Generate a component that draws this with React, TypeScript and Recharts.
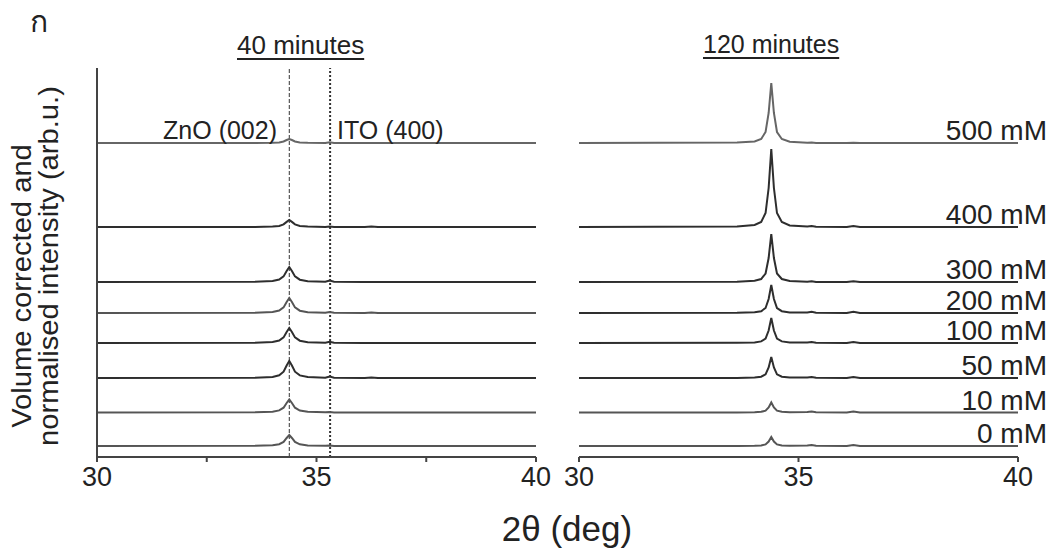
import { LineChart, Line, XAxis, YAxis, ReferenceLine } from "recharts";

const FONT = '"Liberation Sans", Arial, sans-serif';

// 2θ positions sampled along each trace
const twoTheta = [30, 33.6, 34.0, 34.15, 34.25, 34.32, 34.38, 34.44, 34.51, 34.62, 34.8, 35.2, 35.3, 35.4, 36.1, 36.25, 36.4, 40];

const concentrations = ["0 mM", "10 mM", "50 mM", "100 mM", "200 mM", "300 mM", "400 mM", "500 mM"];
// vertical stacking offset of each trace (arb.u.)
const offsets = [11, 44.5, 79, 114, 144, 175, 230, 314];

// 40 minutes
const left0 = [0, 0.2, 0.7, 1.8, 4.1, 8, 11, 8, 4.1, 1.7, 0.6, 0.2, 0.5, 0, 0, 0, 0, 0];
const left10 = [0, 0.2, 0.8, 2.1, 4.8, 9.5, 13, 9.5, 4.8, 2, 0.7, 0.2, 0.5, 0, 0, 0, 0, 0];
const left50 = [0, 0.3, 1.1, 2.7, 6.3, 12.5, 17, 12.5, 6.3, 2.6, 0.9, 0.3, 1.5, 0.3, 0, 0.5, 0, 0];
const left100 = [0, 0.2, 1, 2.4, 5.6, 11, 15, 11, 5.6, 2.3, 0.8, 0.3, 1.2, 0.3, 0, 0, 0, 0];
const left200 = [0, 0.2, 1, 2.4, 5.6, 11, 15, 11, 5.6, 2.3, 0.8, 0.3, 1, 0.3, 0, 0.5, 0, 0];
const left300 = [0, 0.2, 1, 2.4, 5.6, 11, 15, 11, 5.6, 2.3, 0.8, 0.3, 1.5, 0.3, 0, 0, 0, 0];
const left400 = [0, 0.1, 0.5, 1.1, 2.6, 5.1, 7, 5.1, 2.6, 1.1, 0.4, 0, 0.5, 0, 0, 0.6, 0, 0];
const left500 = [0, 0, 0.3, 0.6, 1.5, 3, 4, 3, 1.5, 0.6, 0.2, 0, 0.8, 0, 0, 0, 0, 0];

// 120 minutes
const right0 = [0, 0, 0.2, 0.6, 1.6, 4.5, 9, 4.5, 1.6, 0.6, 0.2, 0.5, 1, 0.3, 0, 1, 0, 0];
const right10 = [0, 0, 0.3, 0.7, 1.8, 5, 10, 5, 1.8, 0.7, 0.3, 0.5, 1, 0.3, 0, 1, 0, 0];
const right50 = [0, 0.1, 0.5, 1.3, 3.7, 10.5, 21, 10.5, 3.7, 1.3, 0.4, 0.5, 1, 0.3, 0, 1, 0, 0];
const right100 = [0, 0.2, 0.6, 1.6, 4.4, 12.5, 25, 12.5, 4.4, 1.6, 0.5, 0.5, 1, 0.3, 0, 1, 0, 0];
const right200 = [0, 0.2, 0.7, 1.8, 5, 14, 28, 14, 5, 1.8, 0.6, 0.5, 1.2, 0.3, 0, 1.2, 0, 0];
const right300 = [0, 0.3, 1.2, 3, 8.5, 24, 48, 24, 8.5, 3, 1, 0.3, 0.8, 0, 0, 0.8, 0, 0];
const right400 = [0, 0.5, 2, 5, 14, 39, 78, 39, 14, 5, 1.5, 0.5, 1, 0.3, 0, 1, 0, 0];
const right500 = [0, 0.4, 1.5, 4, 11, 30, 60, 30, 11, 4, 1.2, 0.3, 0.5, 0, 0, 0.3, 0, 0];

const leftSeries = [left0, left10, left50, left100, left200, left300, left400, left500];
const rightSeries = [right0, right10, right50, right100, right200, right300, right400, right500];

const leftColors = ["#555", "#555", "#2e2e2e", "#2e2e2e", "#555", "#2e2e2e", "#2e2e2e", "#666"];
const rightColors = ["#555", "#555", "#2e2e2e", "#2e2e2e", "#2e2e2e", "#2e2e2e", "#2e2e2e", "#666"];

const znoPeak = 34.38;
const itoPeak = 35.31;

const leftTicks = [30, 32.5, 35, 37.5, 40];
const rightTicks = [30, 35, 40];

const buildRows = (series: number[][]) =>
  twoTheta.map((x, i) => {
    const row: Record<string, number> = { x };
    series.forEach((s, k) => {
      row["s" + k] = offsets[k] + s[i];
    });
    return row;
  });

const leftRows = buildRows(leftSeries);
const rightRows = buildRows(rightSeries);

const W = 560;
const H = 551;
const tickStyle = { fontSize: 27, fill: "#222", fontFamily: FONT };
const fmt = (v: number) => (v % 5 === 0 ? String(v) : "");

function Panel({ rows, colors, ticks, left, marginLeft, withYAxis, withRefs, withLabels }: any) {
  const last = twoTheta.length - 1;
  return (
    <div style={{ position: "absolute", left, top: 0 }}>
      <LineChart width={W} height={H} data={rows} margin={{ top: 68, right: W - marginLeft - 439, bottom: 64, left: withYAxis ? marginLeft - 10 : marginLeft }}>
        <XAxis
          dataKey="x"
          type="number"
          domain={[30, 40]}
          ticks={ticks}
          tickFormatter={fmt}
          interval={0}
          height={30}
          tickSize={5}
          tickMargin={5}
          tick={tickStyle}
          axisLine={{ stroke: "#444", strokeWidth: 2 }}
          tickLine={{ stroke: "#444", strokeWidth: 2 }}
        />
        <YAxis
          type="number"
          domain={[0, 389]}
          hide={!withYAxis}
          width={10}
          tick={false}
          tickLine={false}
          axisLine={{ stroke: "#444", strokeWidth: 2 }}
        />
        {withRefs && <ReferenceLine x={znoPeak} stroke="#333" strokeWidth={1} strokeDasharray="4 2" />}
        {withRefs && <ReferenceLine x={itoPeak} stroke="#333" strokeWidth={2} strokeDasharray="2 2" />}
        {concentrations.map((c, k) => (
          <Line
            key={c}
            type="linear"
            dataKey={"s" + k}
            stroke={colors[k]}
            strokeWidth={2}
            isAnimationActive={false}
            dot={(p: any) =>
              withLabels && p.index === last ? (
                <text key={c + "lab"} x={p.cx + 29} y={p.cy - 3} textAnchor="end" fontSize={28} fill="#222" fontFamily={FONT}>
                  {c}
                </text>
              ) : (
                <g key={c + "d" + p.index} />
              )
            }
          />
        ))}
      </LineChart>
    </div>
  );
}

const txt = { position: "absolute", fontFamily: FONT, color: "#222", whiteSpace: "nowrap", lineHeight: 1 } as const;

export default function App() {
  return (
    <div style={{ position: "absolute", left: 0, top: 0, width: 1052, height: 551, background: "#fff", overflow: "hidden" }}>
      <Panel rows={leftRows} colors={leftColors} ticks={leftTicks} left={0} marginLeft={97} withYAxis withRefs />
      <Panel rows={rightRows} colors={rightColors} ticks={rightTicks} left={560} marginLeft={19} withLabels />
      <div style={{ ...txt, left: 30, top: 6, fontSize: 30, fontFamily: "'Noto Sans', sans-serif" }}>ก</div>
      <div style={{ ...txt, left: 237, top: 32, fontSize: 26, textDecoration: "underline", textUnderlineOffset: 4 }}>40 minutes</div>
      <div style={{ ...txt, left: 703, top: 32, fontSize: 25, textDecoration: "underline", textUnderlineOffset: 4 }}>120 minutes</div>
      <div style={{ ...txt, left: 277, top: 118, fontSize: 25, transform: "translateX(-100%)" }}>ZnO (002)</div>
      <div style={{ ...txt, left: 337, top: 118, fontSize: 25 }}>ITO (400)</div>
      <div style={{ ...txt, left: 22, top: 286, fontSize: 27, transform: "translate(-50%, -50%) rotate(-90deg) scaleX(1.08)" }}>Volume corrected and</div>
      <div style={{ ...txt, left: 49, top: 266, fontSize: 27, transform: "translate(-50%, -50%) rotate(-90deg) scaleX(1.08)" }}>normalised intensity (arb.u.)</div>
      <div style={{ ...txt, left: 567, top: 528, fontSize: 35, transform: "translate(-50%, -50%)" }}>2θ (deg)</div>
    </div>
  );
}
